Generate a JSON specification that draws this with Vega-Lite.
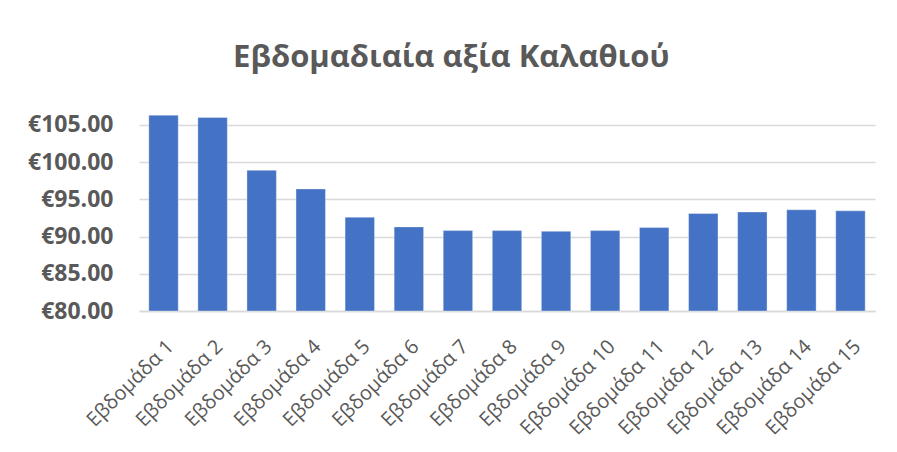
{
  "$schema": "https://vega.github.io/schema/vega-lite/v6.json",
  "width": 736,
  "height": 201,
  "autosize": {"type": "none"},
  "padding": {"left": 139, "top": 110, "right": 22, "bottom": 141},
  "background": "white",
  "title": {
    "text": "Εβδομαδιαία αξία Καλαθιού",
    "font": "Open Sans",
    "fontSize": 31,
    "fontWeight": "bold",
    "color": "#595959",
    "anchor": "middle",
    "frame": "bounds",
    "offset": 36
  },
  "data": {
    "values": [
      {"week": "Εβδομάδα 1", "value": 106.3},
      {"week": "Εβδομάδα 2", "value": 106.0},
      {"week": "Εβδομάδα 3", "value": 98.9},
      {"week": "Εβδομάδα 4", "value": 96.4},
      {"week": "Εβδομάδα 5", "value": 92.6},
      {"week": "Εβδομάδα 6", "value": 91.3},
      {"week": "Εβδομάδα 7", "value": 90.8},
      {"week": "Εβδομάδα 8", "value": 90.8},
      {"week": "Εβδομάδα 9", "value": 90.7},
      {"week": "Εβδομάδα 10", "value": 90.8},
      {"week": "Εβδομάδα 11", "value": 91.2},
      {"week": "Εβδομάδα 12", "value": 93.1},
      {"week": "Εβδομάδα 13", "value": 93.3},
      {"week": "Εβδομάδα 14", "value": 93.6},
      {"week": "Εβδομάδα 15", "value": 93.45}
    ]
  },
  "mark": {"type": "bar", "color": "#4472C4", "stroke": "#ffffff", "strokeOpacity": 0.5, "strokeWidth": 0.7},
  "encoding": {
    "x": {
      "field": "week",
      "type": "nominal",
      "sort": null,
      "scale": {"paddingInner": 0.4, "paddingOuter": 0.2},
      "axis": {
        "title": null,
        "labelAngle": -45,
        "labelFont": "Open Sans",
        "labelFontSize": 20,
        "labelColor": "#595959",
        "labelPadding": 25,
        "ticks": false,
        "domainColor": "#d9d9d9",
        "domainWidth": 1.5
      }
    },
    "y": {
      "field": "value",
      "type": "quantitative",
      "scale": {"domain": [80, 107], "nice": false, "zero": false},
      "axis": {
        "title": null,
        "values": [80, 85, 90, 95, 100, 105],
        "labelExpr": "'€' + format(datum.value, '.2f')",
        "labelFont": "Open Sans",
        "labelFontSize": 23,
        "labelFontWeight": "bold",
        "labelColor": "#595959",
        "labelPadding": 26,
        "domain": false,
        "ticks": false,
        "gridColor": "#d9d9d9",
        "gridWidth": 1.5
      }
    },
    "y2": {"datum": 80}
  },
  "config": {"view": {"stroke": null}}
}
